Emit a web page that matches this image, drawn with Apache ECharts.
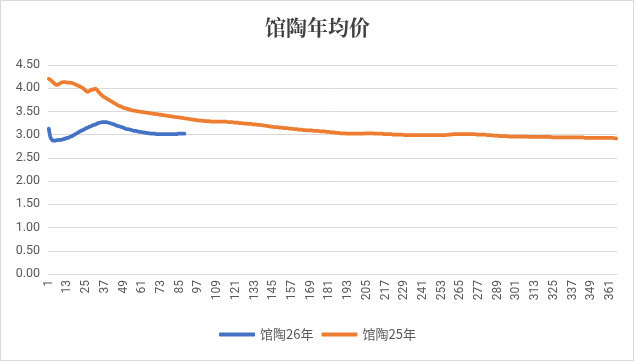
<!DOCTYPE html>
<html><head><meta charset="utf-8">
<script src="https://cdn.jsdelivr.net/npm/echarts@6/dist/echarts.min.js"></script>
<style>html,body{margin:0;padding:0;background:#fff}#c{width:635px;height:362px}</style>
</head><body><div id="c"></div>
<script>
const titleText = '馆陶年均价';
const seriesNames = ['馆陶26年', '馆陶25年'];
const yTicks = [0, 0.5, 1, 1.5, 2, 2.5, 3, 3.5, 4, 4.5];
const days = [];
for (let i = 1; i <= 365; i++) days.push(String(i));

const price26 = [
3.13,2.95,2.89,2.87,2.87,2.88,2.88,2.89,2.89,2.90,
2.91,2.92,2.93,2.94,2.96,2.97,2.99,3.01,3.03,3.05,
3.07,3.09,3.10,3.12,3.14,3.15,3.17,3.18,3.20,3.21,
3.22,3.24,3.25,3.26,3.27,3.27,3.27,3.27,3.26,3.25,
3.24,3.23,3.22,3.20,3.19,3.18,3.17,3.16,3.15,3.13,
3.12,3.12,3.11,3.10,3.09,3.08,3.08,3.07,3.06,3.06,
3.05,3.05,3.04,3.04,3.03,3.03,3.02,3.02,3.02,3.01,
3.01,3.01,3.01,3.01,3.01,3.01,3.01,3.01,3.01,3.01,
3.01,3.01,3.01,3.02,3.02,3.02,3.02,3.02
];

const price25 = [
4.20,4.18,4.15,4.12,4.09,4.07,4.08,4.10,4.12,4.13,
4.13,4.13,4.12,4.12,4.12,4.11,4.10,4.08,4.07,4.05,
4.04,4.02,4.00,3.97,3.94,3.92,3.94,3.96,3.97,3.98,
3.99,3.96,3.92,3.88,3.85,3.82,3.80,3.78,3.76,3.74,
3.72,3.70,3.68,3.66,3.64,3.62,3.61,3.59,3.58,3.57,
3.56,3.55,3.54,3.53,3.52,3.52,3.51,3.50,3.50,3.49,
3.49,3.48,3.48,3.47,3.47,3.46,3.46,3.45,3.45,3.44,
3.44,3.43,3.43,3.42,3.42,3.41,3.41,3.40,3.40,3.39,
3.39,3.38,3.38,3.37,3.37,3.36,3.36,3.35,3.35,3.34,
3.34,3.33,3.33,3.32,3.32,3.31,3.31,3.30,3.30,3.30,
3.29,3.29,3.29,3.29,3.28,3.28,3.28,3.28,3.28,3.28,
3.28,3.28,3.28,3.28,3.28,3.27,3.27,3.27,3.27,3.26,
3.26,3.26,3.25,3.25,3.25,3.24,3.24,3.24,3.23,3.23,
3.23,3.22,3.22,3.22,3.21,3.21,3.21,3.20,3.20,3.19,
3.19,3.18,3.18,3.17,3.17,3.16,3.16,3.16,3.15,3.15,
3.15,3.14,3.14,3.14,3.13,3.13,3.13,3.12,3.12,3.12,
3.11,3.11,3.11,3.10,3.10,3.10,3.09,3.09,3.09,3.09,
3.08,3.08,3.08,3.08,3.07,3.07,3.07,3.07,3.06,3.06,
3.06,3.05,3.05,3.05,3.04,3.04,3.04,3.03,3.03,3.03,
3.03,3.02,3.02,3.02,3.02,3.02,3.02,3.02,3.02,3.02,
3.02,3.02,3.02,3.03,3.03,3.03,3.03,3.03,3.03,3.02,
3.02,3.02,3.02,3.02,3.02,3.01,3.01,3.01,3.01,3.01,
3.01,3.00,3.00,3.00,3.00,3.00,3.00,3.00,2.99,2.99,
2.99,2.99,2.99,2.99,2.99,2.99,2.99,2.99,2.99,2.99,
2.99,2.99,2.99,2.99,2.99,2.99,2.99,2.99,2.99,2.99,
2.99,2.99,2.99,2.99,2.99,2.99,3.00,3.00,3.00,3.01,
3.01,3.01,3.01,3.01,3.01,3.01,3.01,3.01,3.01,3.01,
3.01,3.01,3.01,3.01,3.01,3.00,3.00,3.00,3.00,3.00,
3.00,2.99,2.99,2.99,2.99,2.98,2.98,2.98,2.98,2.97,
2.97,2.97,2.97,2.97,2.97,2.96,2.96,2.96,2.96,2.96,
2.96,2.96,2.96,2.96,2.96,2.96,2.96,2.96,2.95,2.95,
2.95,2.95,2.95,2.95,2.95,2.95,2.95,2.95,2.95,2.95,
2.95,2.95,2.95,2.94,2.94,2.94,2.94,2.94,2.94,2.94,
2.94,2.94,2.94,2.94,2.94,2.94,2.94,2.94,2.94,2.94,
2.94,2.94,2.94,2.94,2.93,2.93,2.93,2.93,2.93,2.93,
2.93,2.93,2.93,2.93,2.93,2.93,2.93,2.93,2.93,2.93,
2.93,2.93,2.93,2.92,2.92
];

const chart = echarts.init(document.getElementById('c'), null, {renderer: 'canvas'});
const font = 'Roboto, "Noto Sans CJK SC", sans-serif';
chart.setOption({
  animation: false,
  backgroundColor: '#fff',
  graphic: [{type: 'rect', shape: {x: 0.5, y: 0.5, width: 633, height: 360}, style: {fill: null, stroke: '#d9d9d9', lineWidth: 1}, silent: true}],
  title: {
    text: titleText, left: 'center', top: 12,
    textStyle: {fontFamily: '"Noto Serif CJK SC","Noto Sans CJK SC", serif', fontSize: 21, fontWeight: 'bold', color: '#404040'}
  },
  legend: {
    data: seriesNames, bottom: 16, left: 'center', itemWidth: 36, itemHeight: 4, itemGap: 8,
    icon: 'roundRect',
    textStyle: {fontFamily: '"Noto Sans CJK SC", sans-serif', fontSize: 13, color: '#595959'}
  },
  grid: {left: 48, right: 18, top: 65, bottom: 88, containLabel: false},
  xAxis: {
    type: 'category', data: days, boundaryGap: true,
    axisLine: {lineStyle: {color: '#d9d9d9'}},
    axisTick: {show: false},
    axisLabel: {interval: 11, rotate: 90, color: '#595959', fontSize: 12, fontFamily: font, margin: 6}
  },
  yAxis: {
    type: 'value', min: yTicks[0], max: yTicks[yTicks.length - 1], interval: 0.5,
    axisLine: {show: false}, axisTick: {show: false},
    splitLine: {lineStyle: {color: '#d9d9d9'}},
    axisLabel: {formatter: v => v.toFixed(2), color: '#595959', fontSize: 12.5, fontFamily: font, margin: 8}
  },
  series: [
    {name: seriesNames[0], type: 'line', data: price26, smooth: 0.3, showSymbol: false,
     lineStyle: {color: '#4472C4', width: 3.75, cap: 'round'}, itemStyle: {color: '#4472C4'}},
    {name: seriesNames[1], type: 'line', data: price25, smooth: 0.3, showSymbol: false,
     lineStyle: {color: '#ED7D31', width: 3.75, cap: 'round'}, itemStyle: {color: '#ED7D31'}}
  ]
});
</script></body></html>
